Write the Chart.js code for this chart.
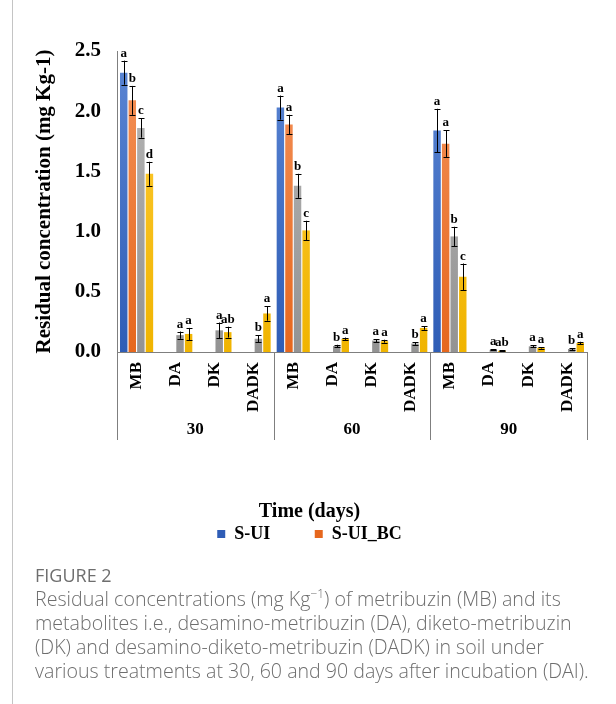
<!DOCTYPE html>
<html>
<head>
<meta charset="utf-8">
<script src="https://cdn.jsdelivr.net/npm/chart.js@4.4.1/dist/chart.umd.min.js"></script>
<style>
  html, body { margin: 0; padding: 0; background: #fff; }
  #page { position: relative; width: 616px; height: 704px; overflow: hidden; }
  #edge { position: absolute; left: 12px; top: 0; width: 1px; height: 704px; background: #c4c4c4; }
  #chartBox { position: absolute; left: 0; top: 0; width: 616px; height: 572px; }
  #caption { position: absolute; left: 35px; top: 563px; width: 575px; font-family: "Open Sans", "Noto Sans", sans-serif; color: #6e6e6e; white-space: nowrap; }
  #caption .fig { font-size: 18px; color: #6e6e6e; line-height: 24px; }
  #caption .txt { font-size: 19.6px; line-height: 24px; font-weight: 300; }
</style>
</head>
<body>
<div id="page">
  <div id="edge"></div>
  <div id="chartBox"><canvas id="barChart" width="616" height="572"></canvas></div>
  <div id="caption">
    <div class="fig">FIGURE 2</div>
    <div class="txt">Residual concentrations (mg Kg<sup style="font-size:12px;line-height:0">−1</sup>) of metribuzin (MB) and its<br>metabolites i.e., desamino-metribuzin (DA), diketo-metribuzin<br>(DK) and desamino-diketo-metribuzin (DADK) in soil under<br>various treatments at 30, 60 and 90 days after incubation (DAI).</div>
  </div>
</div>
<script>
// Dados
const groups = ['30', '60', '90'];
const compounds = ['MB', 'DA', 'DK', 'DADK'];
const labels = ['MB', 'DA', 'DK', 'DADK', 'MB', 'DA', 'DK', 'DADK', 'MB', 'DA', 'DK', 'DADK'];
const yTicks = [0, 0.5, 1.0, 1.5, 2.0, 2.5];

const sUI = [2.32, null, null, null, 2.03, null, null, null, 1.84, null, null, null];
const sUIBC = [2.09, null, null, null, 1.89, null, null, null, 1.73, null, null, null];
const series3 = [1.86, 0.14, 0.18, 0.11, 1.38, 0.05, 0.095, 0.07, 0.96, 0.018, 0.047, 0.025];
const series4 = [1.48, 0.15, 0.165, 0.32, 1.01, 0.11, 0.09, 0.20, 0.625, 0.01, 0.035, 0.075];

const sUIErr = [0.10, null, null, null, 0.10, null, null, null, 0.18, null, null, null];
const sUIBCErr = [0.12, null, null, null, 0.08, null, null, null, 0.11, null, null, null];
const series3Err = [0.08, 0.03, 0.065, 0.03, 0.10, 0.01, 0.012, 0.01, 0.08, 0.005, 0.008, 0.008];
const series4Err = [0.10, 0.05, 0.045, 0.06, 0.08, 0.01, 0.012, 0.015, 0.11, 0.004, 0.006, 0.01];

const sUILetters = ['a', '', '', '', 'a', '', '', '', 'a', '', '', ''];
const sUIBCLetters = ['b', '', '', '', 'a', '', '', '', 'a', '', '', ''];
const series3Letters = ['c', 'a', 'a', 'b', 'b', 'b', 'a', 'b', 'b', 'a', 'a', 'b'];
const series4Letters = ['d', 'a', 'ab', 'a', 'c', 'a', 'a', 'a', 'c', 'ab', 'a', 'a'];

const errors = [sUIErr, sUIBCErr, series3Err, series4Err];
const letters = [sUILetters, sUIBCLetters, series3Letters, series4Letters];

const serif = "'Liberation Serif', 'Times New Roman', serif";
const axisColor = '#7f7f7f';

function shade(top, bottom) {
    return (c) => {
        const area = c.chart.chartArea;
        if (!area) return bottom;
        const g = c.chart.ctx.createLinearGradient(0, area.top, 0, area.bottom);
        g.addColorStop(0, top);
        g.addColorStop(1, bottom);
        return g;
    };
}

// barras de erro e letras
const errorBars = {
    id: 'errorBars',
    afterDatasetsDraw(chart) {
        const ctx = chart.ctx;
        const y = chart.scales.y;
        ctx.save();
        ctx.strokeStyle = '#000';
        ctx.lineWidth = 1;
        ctx.fillStyle = '#000';
        ctx.font = 'bold 13px ' + serif;
        ctx.textAlign = 'center';
        ctx.textBaseline = 'alphabetic';
        chart.data.datasets.forEach((ds, di) => {
            const meta = chart.getDatasetMeta(di);
            meta.data.forEach((bar, i) => {
                const v = ds.data[i];
                const e = errors[di][i];
                if (v == null || e == null) return;
                const yt = y.getPixelForValue(v + e);
                const yb = y.getPixelForValue(Math.max(0, v - e));
                const x = Math.round(bar.x) + 0.5;
                ctx.beginPath();
                ctx.moveTo(x, yt); ctx.lineTo(x, yb);
                ctx.moveTo(x - 3, Math.round(yt) + 0.5); ctx.lineTo(x + 3, Math.round(yt) + 0.5);
                ctx.moveTo(x - 3, Math.round(yb) + 0.5); ctx.lineTo(x + 3, Math.round(yb) + 0.5);
                ctx.stroke();
                if (letters[di][i]) ctx.fillText(letters[di][i], bar.x, yt - 4);
            });
        });
        ctx.restore();
    }
};

// separadores e rótulos dos grupos
const groupAxis = {
    id: 'groupAxis',
    afterDraw(chart) {
        const ctx = chart.ctx;
        const x = chart.scales.x;
        const area = chart.chartArea;
        const n = compounds.length;
        ctx.save();
        ctx.strokeStyle = axisColor;
        ctx.lineWidth = 1;
        const edges = [area.left];
        for (let g = 1; g < groups.length; g++) {
            edges.push((x.getPixelForValue(g * n - 1) + x.getPixelForValue(g * n)) / 2);
        }
        edges.push(area.right);
        ctx.beginPath();
        edges.forEach(px => {
            const xx = Math.round(px) + 0.5;
            ctx.moveTo(xx, area.bottom);
            ctx.lineTo(xx, area.bottom + 88);
        });
        ctx.stroke();
        ctx.fillStyle = '#000';
        ctx.font = 'bold 17px ' + serif;
        ctx.textAlign = 'center';
        ctx.textBaseline = 'middle';
        groups.forEach((g, gi) => {
            ctx.fillText(g, (edges[gi] + edges[gi + 1]) / 2, area.bottom + 78);
        });
        ctx.restore();
    }
};

const barChartContext = document.getElementById('barChart').getContext('2d');
const barChart = new Chart(barChartContext, {
    type: 'bar',
    data: {
        labels: labels,
        datasets: [{
            label: 'S-UI',
            data: sUI,
            backgroundColor: shade('#5b86d4', '#2f5db6')
        }, {
            label: 'S-UI_BC',
            data: sUIBC,
            backgroundColor: shade('#f4935b', '#e6671d')
        }, {
            label: 'Series 3',
            data: series3,
            backgroundColor: shade('#b8b8b8', '#939393')
        }, {
            label: 'Series 4',
            data: series4,
            backgroundColor: shade('#ffcd3a', '#f0b400')
        }]
    },
    options: {
        responsive: false,
        animation: false,
        categoryPercentage: 0.875,
        barPercentage: 0.87,
        layout: {
            padding: { left: 32, right: 29, top: 51, bottom: 19 }
        },
        plugins: {
            tooltip: { enabled: false },
            legend: {
                position: 'bottom',
                labels: {
                    generateLabels: (chart) => {
                        const items = Chart.defaults.plugins.legend.labels.generateLabels(chart);
                        items[0].text = items[0].text + '\u00a0'.repeat(9);
                        return items;
                    },
                    filter: item => item.datasetIndex < 2,
                    boxWidth: 8,
                    boxHeight: 8,
                    padding: 4,
                    color: '#000',
                    font: { family: serif, size: 18, weight: 'bold' }
                },
                title: {
                    display: true,
                    text: 'Time (days)',
                    color: '#000',
                    padding: { top: 0, bottom: -5 },
                    font: { family: serif, size: 20, weight: 'bold' }
                }
            }
        },
        scales: {
            x: {
                grid: { display: false, drawTicks: false },
                border: { color: axisColor },
                ticks: {
                    minRotation: 90,
                    maxRotation: 90,
                    autoSkip: false,
                    padding: 10,
                    color: '#000',
                    font: { family: serif, size: 17, weight: 'bold' }
                },
                afterFit: (scale) => { scale.height = 150; }
            },
            y: {
                min: 0,
                max: 2.5,
                grid: { display: false, drawTicks: false },
                border: { color: axisColor },
                afterBuildTicks: (scale) => { scale.ticks = yTicks.map(v => ({ value: v })); },
                ticks: {
                    padding: 16,
                    color: '#000',
                    font: { family: serif, size: 21, weight: 'bold' },
                    callback: (v) => Number(v).toFixed(1)
                },
                title: {
                    display: true,
                    text: 'Residual concentration (mg Kg-1)',
                    color: '#000',
                    padding: 0,
                    font: { family: serif, size: 21, weight: 'bold' }
                },
                afterFit: (scale) => { scale.width = 85; }
            }
        }
    },
    plugins: [errorBars, groupAxis]
});
</script>
</body>
</html>
